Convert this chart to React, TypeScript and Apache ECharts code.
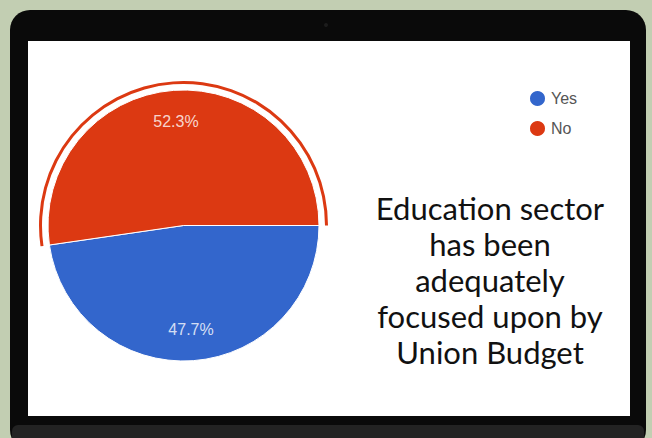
import React, { useEffect, useRef } from "react";
import * as echarts from "echarts";

const categories = ["Yes", "No"];
const values = [47.7, 52.3];
const sliceColors = ["#3366cc", "#dc3912"];
const titleLines = [
  "Education sector",
  "has been",
  "adequately",
  "focused upon by",
  "Union Budget",
];

export default function App() {
  const ref = useRef<HTMLDivElement>(null);
  useEffect(() => {
    if (!ref.current) return;
    const chart = echarts.init(ref.current, null, { renderer: "svg" });
    const center = [183.5, 225.5];
    const pieData = categories.map((c, i) => ({
      name: c,
      value: values[i],
      itemStyle: { color: sliceColors[i] },
    }));
    chart.setOption({
      animation: false,
      backgroundColor: "#c2ceb2",
      graphic: [
        {
          type: "rect",
          z: 0,
          shape: { x: 10, y: 10, width: 636, height: 440, r: 20 },
          style: { fill: "#0a0a0a" },
        },
        {
          type: "rect",
          z: 0,
          shape: { x: 12, y: 425, width: 632, height: 20, r: [6, 6, 0, 0] },
          style: { fill: "#232323" },
        },
        {
          type: "circle",
          z: 0,
          shape: { cx: 326, cy: 25, r: 2 },
          style: { fill: "#1c1c1c" },
        },
        {
          type: "rect",
          z: 0,
          shape: { x: 28, y: 41, width: 602, height: 375 },
          style: { fill: "#ffffff" },
        },
        {
          type: "text",
          z: 5,
          x: 490,
          y: 190,
          style: {
            text: titleLines.join("\n"),
            font: "31px Lato",
            fill: "#111111",
            align: "center",
            lineHeight: 36,
          },
        },
      ],
      legend: {
        orient: "vertical",
        left: 523,
        top: 84,
        icon: "circle",
        itemWidth: 17,
        itemHeight: 17,
        itemGap: 11,
        data: categories,
        textStyle: { color: "#555555", fontSize: 16, fontFamily: "Arial" },
        selectedMode: false,
      },
      series: [
        {
          type: "pie",
          center,
          radius: [0, 135.5],
          startAngle: 0,
          clockwise: true,
          silent: true,
          data: pieData,
          itemStyle: { borderColor: "#ffffff", borderWidth: 1 },
          label: { show: false },
          labelLine: { show: false },
        },
        {
          type: "pie",
          center,
          radius: [141.5, 144.5],
          startAngle: 0,
          clockwise: true,
          silent: true,
          data: categories.map((c, i) => ({
            name: c,
            value: values[i],
            itemStyle: { color: c === "No" ? sliceColors[i] : "rgba(0,0,0,0)" },
          })),
          label: { show: false },
          labelLine: { show: false },
        },
        {
          type: "pie",
          center,
          radius: [68, 135],
          startAngle: 0,
          clockwise: true,
          silent: true,
          data: categories.map((c, i) => ({
            name: c,
            value: values[i],
            itemStyle: { color: "rgba(0,0,0,0)" },
          })),
          label: {
            show: true,
            position: "inside",
            formatter: (p: any) => p.value.toFixed(1) + "%",
            color: "rgba(255,255,255,0.8)",
            fontSize: 16,
            fontFamily: "Arial",
          },
          labelLine: { show: false },
        },
      ],
    });
    return () => chart.dispose();
  }, []);
  return (
    <div
      ref={ref}
      style={{ position: "fixed", left: 0, top: 0, width: 652, height: 438 }}
    />
  );
}
